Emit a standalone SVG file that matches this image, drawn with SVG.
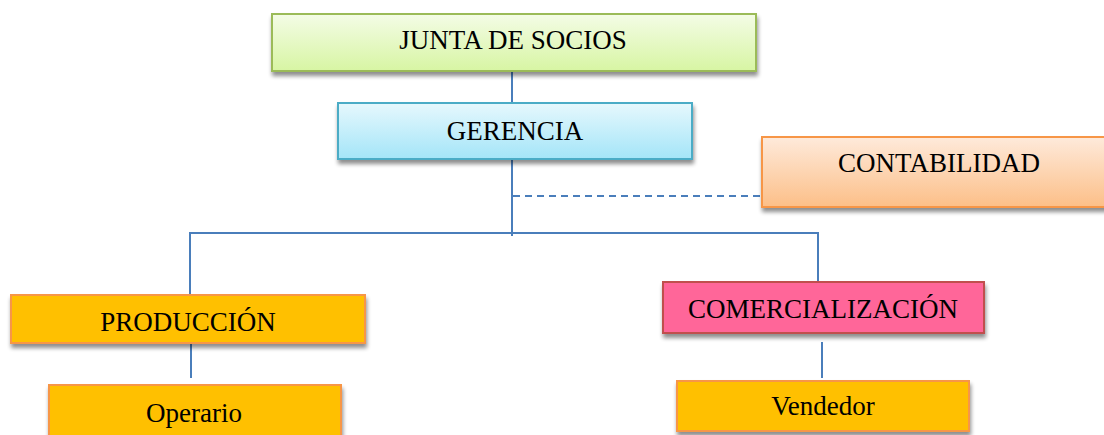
<svg xmlns="http://www.w3.org/2000/svg" width="1104" height="435" viewBox="0 0 1104 435">
<style>
.t{font-family:"Liberation Serif","Times New Roman",serif;font-size:27px;fill:#000;text-anchor:middle}
.c{stroke:#4a7ebb;stroke-width:2;fill:none}
.box{stroke-width:2;filter:url(#sh)}
</style>
<defs>
<filter id="sh" x="-10%" y="-20%" width="120%" height="160%">
<feGaussianBlur in="SourceAlpha" stdDeviation="2.2"/>
<feOffset dx="1" dy="3.5" result="o"/>
<feComponentTransfer><feFuncA type="linear" slope="0.45"/></feComponentTransfer>
<feMerge><feMergeNode/><feMergeNode in="SourceGraphic"/></feMerge>
</filter>
<linearGradient id="gGreen" x1="0" y1="0" x2="0" y2="1"><stop offset="0" stop-color="#f4fce6"/><stop offset="1" stop-color="#d7f5a3"/></linearGradient>
<linearGradient id="gBlue" x1="0" y1="0" x2="0" y2="1"><stop offset="0" stop-color="#e6f8fd"/><stop offset="1" stop-color="#a4e5f8"/></linearGradient>
<linearGradient id="gOrange" x1="0" y1="0" x2="0" y2="1"><stop offset="0" stop-color="#feeadb"/><stop offset="1" stop-color="#fcbf88"/></linearGradient>
</defs>
<g id="connectors">
<line class="c" x1="512" y1="71" x2="512" y2="102"/>
<line class="c" x1="512" y1="159" x2="512" y2="236"/>
<line class="c" x1="513" y1="196" x2="762" y2="196" stroke-dasharray="7,5"/>
<polyline class="c" points="190,296 190,233 818,233 818,285"/>
<line class="c" x1="191" y1="342" x2="191" y2="378"/>
<line class="c" x1="822" y1="342" x2="822" y2="378"/>
</g>
<g id="junta">
<rect class="box" x="272" y="14" width="484" height="57" fill="url(#gGreen)" stroke="#9bbb59"/>
<text class="t" x="513" y="49">JUNTA DE SOCIOS</text>
</g>
<g id="gerencia">
<rect class="box" x="338" y="103" width="354" height="56" fill="url(#gBlue)" stroke="#4bacc6"/>
<text class="t" x="515" y="140">GERENCIA</text>
</g>
<g id="contabilidad">
<rect class="box" x="762" y="137" width="360" height="70" fill="url(#gOrange)" stroke="#f79646"/>
<text class="t" x="939" y="172">CONTABILIDAD</text>
</g>
<g id="produccion">
<rect class="box" x="11" y="295" width="354" height="48" fill="#ffc000" stroke="#f79646"/>
<text class="t" x="188" y="331">PRODUCCIÓN</text>
</g>
<g id="comercializacion">
<rect class="box" x="663" y="282" width="321" height="51" fill="#ff6699" stroke="#c0504d"/>
<text class="t" x="823" y="318">COMERCIALIZACIÓN</text>
</g>
<g id="operario">
<rect class="box" x="49" y="385" width="292" height="60" fill="#ffc000" stroke="#f79646"/>
<text class="t" x="194" y="422">Operario</text>
</g>
<g id="vendedor">
<rect class="box" x="677" y="381" width="292" height="50" fill="#ffc000" stroke="#f79646"/>
<text class="t" x="823" y="415">Vendedor</text>
</g>
</svg>
